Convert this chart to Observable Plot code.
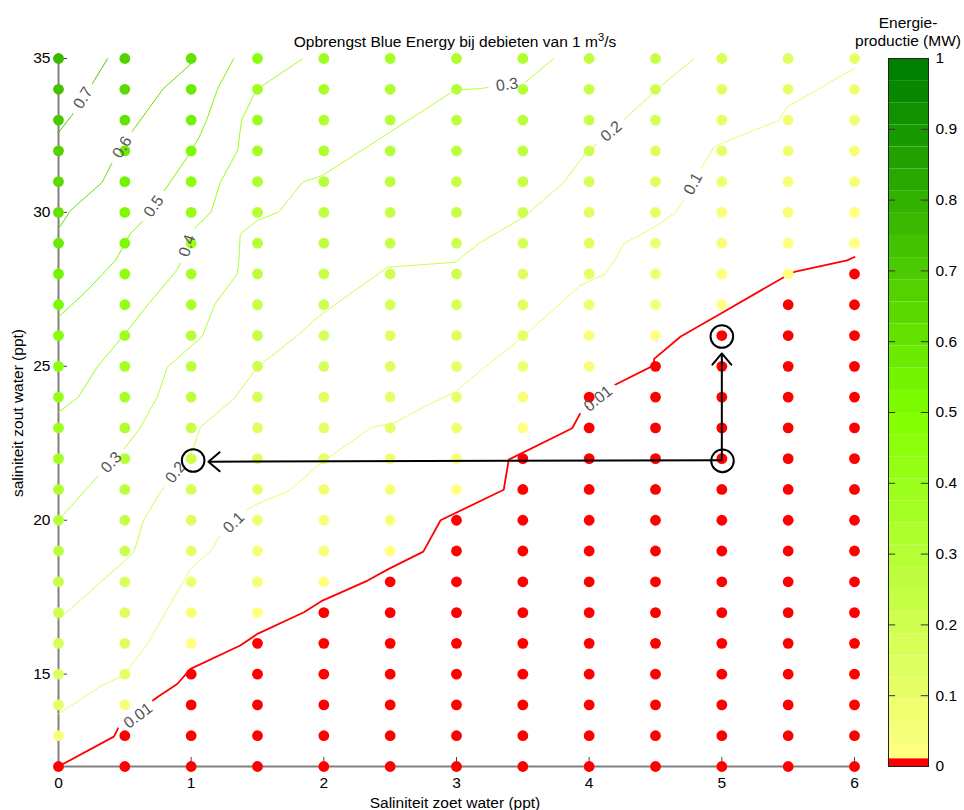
<!DOCTYPE html>
<html><head><meta charset="utf-8">
<script src="https://cdn.jsdelivr.net/npm/d3@7"></script>
<script src="https://cdn.jsdelivr.net/npm/@observablehq/plot@0.6"></script>
<style>
body{margin:0;background:#fff;font-family:"Liberation Sans",Arial,sans-serif;}
#wrap{position:relative;width:964px;height:810px;overflow:hidden;background:#fff;}
.lbl{position:absolute;font-size:15.5px;color:#000;white-space:nowrap;line-height:18px;}
#main svg,#cbar svg{background:transparent !important;display:block;}
</style></head><body>
<div id="wrap">
  <div id="main" style="position:absolute;left:0;top:0"></div>
  <div id="cbar" style="position:absolute;left:860px;top:0"></div>
  <div class="lbl" style="left:0;width:910px;top:33px;text-align:center">Opbrengst Blue Energy bij debieten van 1 m<sup style="font-size:0.72em;line-height:0;vertical-align:0.5em">3</sup>/s</div>
  <div class="lbl" style="left:0;width:910px;top:794px;text-align:center">Saliniteit zoet water (ppt)</div>
  <div class="lbl" style="left:18px;top:413px;transform:translate(-50%,-50%) rotate(-90deg)">saliniteit zout water (ppt)</div>
  <div class="lbl" style="left:848px;width:120px;top:14px;text-align:center">Energie-<br>productie (MW)</div>
</div>
<script>
// ---- grid categories ----
const xVals = [0, 0.5, 1, 1.5, 2, 2.5, 3, 3.5, 4, 4.5, 5, 5.5, 6];
const yVals = [12,13,14,15,16,17,18,19,20,21,22,23,24,25,26,27,28,29,30,31,32,33,34,35];

// ---- energy production (MW) per column, rows y = 12..35 ----
const e_x0   = [0,0.06,0.11,0.14,0.17,0.205,0.24,0.27,0.30,0.33,0.36,0.39,0.42,0.45,0.48,0.515,0.55,0.58,0.62,0.65,0.68,0.71,0.74,0.77];
const e_x05  = [0,0,0.045,0.10,0.13,0.155,0.18,0.205,0.23,0.26,0.29,0.32,0.345,0.37,0.40,0.43,0.465,0.50,0.53,0.56,0.59,0.62,0.65,0.68];
const e_x1   = [0,0,0,0,0.03,0.06,0.085,0.115,0.14,0.17,0.195,0.225,0.255,0.28,0.31,0.335,0.36,0.385,0.425,0.465,0.505,0.54,0.57,0.605];
const e_x15  = [0,0,0,0,0,0.02,0.04,0.06,0.09,0.11,0.135,0.155,0.18,0.20,0.22,0.24,0.26,0.285,0.305,0.33,0.355,0.38,0.40,0.44];
const e_x2   = [0,0,0,0,0,0,0.02,0.04,0.06,0.08,0.10,0.12,0.145,0.165,0.185,0.21,0.23,0.25,0.275,0.295,0.32,0.34,0.36,0.385];
const e_x25  = [0,0,0,0,0,0,0,0.02,0.04,0.06,0.08,0.10,0.115,0.135,0.155,0.175,0.195,0.22,0.245,0.265,0.29,0.31,0.33,0.35];
const e_x3   = [0,0,0,0,0,0,0,0,0,0.015,0.04,0.065,0.095,0.12,0.145,0.165,0.19,0.21,0.23,0.245,0.265,0.28,0.30,0.32];
const e_x35  = [0,0,0,0,0,0,0,0,0,0,0,0.03,0.055,0.075,0.10,0.125,0.15,0.18,0.205,0.225,0.25,0.27,0.295,0.315];
const e_x4   = [0,0,0,0,0,0,0,0,0,0,0,0,0,0.035,0.055,0.085,0.11,0.13,0.155,0.18,0.20,0.225,0.245,0.27];
const e_x45  = [0,0,0,0,0,0,0,0,0,0,0,0,0,0,0.025,0.045,0.07,0.09,0.11,0.135,0.155,0.18,0.20,0.225];
const e_x5   = [0,0,0,0,0,0,0,0,0,0,0,0,0,0,0,0.015,0.03,0.045,0.06,0.08,0.095,0.12,0.145,0.17];
const e_x55  = [0,0,0,0,0,0,0,0,0,0,0,0,0,0,0,0,0.012,0.03,0.045,0.06,0.075,0.09,0.11,0.135];
const e_x6   = [0,0,0,0,0,0,0,0,0,0,0,0,0,0,0,0,0,0.015,0.03,0.045,0.06,0.075,0.09,0.105];
const energyColumns = [e_x0,e_x05,e_x1,e_x15,e_x2,e_x25,e_x3,e_x35,e_x4,e_x45,e_x5,e_x55,e_x6];

// ---- contour lines [x, y] ----
const c001 = [[0,12.0],[0.417,12.97],[0.46,13.33],[0.744,14.25],[0.895,14.68],[0.995,15.17],[1.37,15.93],[1.5,16.31],[1.85,17.01],[1.99,17.39],[2.33,18.04],[2.49,18.42],[2.75,18.98],[2.88,20.0],[3.356,20.99],[3.394,21.97],[3.872,22.99],[3.935,23.49],[4.2,24.41],[4.487,25.03],[4.49,25.24],[4.69,25.97],[4.99,26.71],[5.49,27.95],[5.555,28.08],[5.945,28.44],[6,28.55]];
const c01 = [[0,13.71],[0.317,14.61],[0.49,14.95],[0.67,15.98],[0.995,18.42],[1.15,19.02],[1.22,19.5],[1.42,20.34],[1.5,20.53],[1.74,20.96],[1.97,21.83],[2.36,23.02],[2.53,23.16],[2.75,23.67],[2.99,24.16],[3.18,24.86],[3.5,25.95],[3.78,27.03],[3.93,27.62],[4.12,28.0],[4.19,28.44],[4.26,28.98],[4.49,29.52],[4.65,29.99],[4.71,30.39],[4.85,31.47],[4.94,32.12],[4.99,32.23],[5.24,32.66],[5.43,32.99],[5.49,33.42],[6,34.68]];
const c02 = [[0,16.77],[0.317,17.99],[0.49,18.64],[0.57,18.98],[0.64,19.99],[0.76,20.86],[1.01,22.26],[1.07,23.02],[1.32,23.94],[1.5,24.97],[1.8,26.0],[1.97,26.65],[2.48,28.22],[2.99,28.38],[3.18,29.03],[3.51,29.85],[3.81,30.98],[3.98,31.96],[4.06,32.23],[4.27,33.04],[4.5,33.96],[4.79,34.99]];
const c03 = [[0,20.0],[0.29,21.4],[0.505,22.37],[0.618,23.02],[0.744,24.0],[0.82,24.97],[1.083,25.97],[1.18,27.03],[1.347,28.0],[1.36,28.44],[1.37,29.3],[1.5,29.74],[1.66,30.01],[1.84,30.98],[1.99,31.2],[2.5,32.61],[2.99,33.98],[3.18,34.02],[3.24,34.06],[3.52,34.23],[3.73,34.99]];
const c04 = [[0,23.51],[0.15,24.0],[0.29,24.97],[0.49,26.0],[0.67,26.98],[0.89,28.11],[0.93,28.44],[1.01,29.41],[1.15,30.01],[1.22,30.98],[1.35,32.01],[1.38,32.99],[1.49,33.98],[1.84,34.99]];
const c05 = [[0,26.6],[0.2,27.4],[0.43,28.44],[0.54,29.3],[0.64,29.74],[0.79,30.66],[0.97,31.79],[1.06,32.44],[1.12,33.04],[1.2,34.02],[1.32,34.99]];
const c06 = [[0,29.47],[0.09,30.06],[0.33,30.98],[0.4,31.58],[0.56,32.66],[0.79,34.02],[1.0,34.83]];
const c07 = [[0,32.6],[0.1,33.15],[0.27,34.29],[0.37,34.99]];
const contourLevels = [0.01, 0.1, 0.2, 0.3, 0.4, 0.5, 0.6, 0.7];
const contourLines = [c001, c01, c02, c03, c04, c05, c06, c07];

// ---- contour labels ----
const labelText  = ["0.01","0.01","0.1","0.1","0.2","0.2","0.3","0.3","0.4","0.5","0.6","0.7"];
const labelX     = [0.60, 4.067, 1.321, 4.783, 0.882, 4.167, 0.398, 3.381, 0.97, 0.718, 0.48, 0.185];
const labelY     = [13.65, 23.95, 19.92, 30.93, 21.56, 32.63, 21.88, 34.15, 28.92, 30.2, 32.12, 33.72];
const labelAngle = [-37, -39, -44, -61, -52, -41, -47, -8, -72, -55, -59, -58];

// ---- annotations ----
const arrowFromX = [5.0, 5.0],   arrowFromY = [21.95, 22.0];
const arrowToX   = [1.13, 5.0],  arrowToY   = [21.9, 25.42];
const ringX = [1.015, 5.005, 5.0];
const ringY = [21.94, 21.93, 25.97];

// ---- tick values ----
const xTicks = [0,1,2,3,4,5,6];
const yTicks = [15,20,25,30,35];
const cbTicks = [0,0.1,0.2,0.3,0.4,0.5,0.6,0.7,0.8,0.9,1];

// ---- colour map (threshold) ----
const nBands = 32;
const redBelow = 0.011;
const interp = d3.piecewise(d3.interpolateRgb, ["#ffff80", "#80ff00", "#008000"]);
const bandColors = d3.range(nBands).map(i => interp(i / (nBands - 1)));
const thresholds = [redBelow, ...d3.range(1, nBands).map(i => i / nBands)];
const colorScale = {type: "threshold", domain: thresholds, range: ["#ff0000", ...bandColors]};

const dots = xVals.flatMap((x, i) => yVals.map((y, j) => ({x, y, v: energyColumns[i][j]})));
const labels = labelText.map((t, i) => ({t, x: labelX[i], y: labelY[i], a: labelAngle[i]}));
const arrows = arrowFromX.map((_, i) => ({x1: arrowFromX[i], y1: arrowFromY[i], x2: arrowToX[i], y2: arrowToY[i]}));
const rings = ringX.map((x, i) => ({x, y: ringY[i]}));

const font = '"Liberation Sans", Arial, sans-serif';
const gray = "#808080";

const lineMarks = contourLines.map((pts, k) =>
  Plot.line(pts, {x: d => d[0], y: d => d[1], stroke: () => contourLevels[k],
                  strokeWidth: contourLevels[k] === 0.01 ? 1.8 : 1}));

const main = Plot.plot({
  width: 860, height: 810,
  marginLeft: 58, marginRight: 6, marginTop: 58, marginBottom: 44,
  style: {fontSize: "15.5px", fontFamily: font, color: "#000", background: "transparent"},
  x: {domain: [0, 6], ticks: xTicks, tickSize: 0, tickPadding: 10, label: null, tickFormat: d => String(d)},
  y: {domain: [12, 35], ticks: yTicks, tickSize: 0, tickPadding: 8, label: null},
  color: colorScale,
  marks: [
    Plot.ruleX([0], {stroke: gray, strokeWidth: 2}),
    Plot.ruleY([12], {stroke: gray, strokeWidth: 2}),
    Plot.ruleX(xTicks.slice(1), {x: d => d, y1: () => 12, y2: () => 12, insetTop: -9, stroke: "#444", strokeWidth: 1}),
    Plot.ruleY(yTicks, {y: d => d, x1: () => 0, x2: () => 0, insetRight: -9, stroke: "#444", strokeWidth: 1}),
    ...lineMarks,
    Plot.text(labels, {x: "x", y: "y", text: "t", rotate: "a", fill: "white", stroke: "white", strokeWidth: 16, fontSize: 16, fontFamily: font}),
    Plot.dot(dots, {x: "x", y: "y", fill: "v", r: 5.4}),
    Plot.text(labels, {x: "x", y: "y", text: "t", rotate: "a", fill: "#555", fontSize: 16, fontFamily: font}),
    Plot.arrow(arrows, {x1: "x1", y1: "y1", x2: "x2", y2: "y2", stroke: "black", strokeWidth: 2, headAngle: 80, headLength: 11}),
    Plot.dot(rings, {x: "x", y: "y", r: 11.3, stroke: "black", strokeWidth: 2, fill: "none"})
  ]
});
document.getElementById("main").appendChild(main);

// ---- colour bar ----
const edges = [0, redBelow, ...d3.range(1, nBands).map(i => i / nBands), 1];
const bands = edges.slice(0, -1).map((lo, i) => ({lo, hi: edges[i + 1]}));
const inner = cbTicks.slice(1, -1);
const cbar = Plot.plot({
  width: 104, height: 810,
  marginLeft: 28, marginRight: 36, marginTop: 58, marginBottom: 44,
  style: {fontSize: "15.5px", fontFamily: font, color: "#000", background: "transparent"},
  x: {domain: [0, 1], axis: null},
  y: {domain: [0, 1], axis: "right", ticks: cbTicks, tickSize: 0, tickPadding: 7, label: null, tickFormat: d => String(d)},
  color: colorScale,
  marks: [
    Plot.rect(bands, {x1: () => 0, x2: () => 1, y1: "lo", y2: "hi", fill: "lo"}),
    Plot.ruleY(inner, {y: d => d, x1: () => 0, x2: () => 0.18, stroke: "#333", strokeWidth: 1}),
    Plot.ruleY(inner, {y: d => d, x1: () => 0.82, x2: () => 1, stroke: "#333", strokeWidth: 1}),
    Plot.frame({stroke: "#222", strokeWidth: 1})
  ]
});
document.getElementById("cbar").appendChild(cbar);
</script>
</body></html>
